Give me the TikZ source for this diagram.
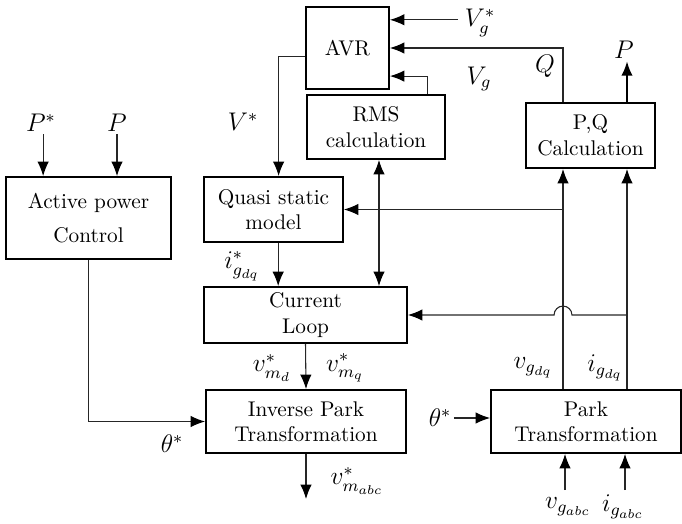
\documentclass[tikz,border=0pt]{standalone}
\usepackage{amsmath,amssymb}
\usetikzlibrary{arrows.meta,calc}

\tikzset{
  blockbox/.style={draw, line width=0.9pt, align=center, inner sep=2pt},
  conn/.style={line width=0.5pt, black!85},
  arr/.style={conn, -{Latex[length=6.8pt,width=5.4pt,color=black]}},
  darr/.style={conn, {Latex[length=6.8pt,width=5.4pt,color=black]}-{Latex[length=6.8pt,width=5.4pt,color=black]}},
  lbl/.style={inner sep=1pt, font=\large}
}

\begin{document}
\begin{tikzpicture}[x=0.47pt, y=-0.47pt]
\useasboundingbox (0,0) rectangle (682,523);

% blocks
\node[blockbox, minimum width=39pt, minimum height=38.5pt] (avr) at (347.5,48) {AVR};
\node[blockbox, minimum width=64.9pt, minimum height=30.1pt] (rms) at (376,127) {RMS\\calculation};
\node[blockbox, minimum width=60.6pt, minimum height=30.6pt] (pq) at (590.5,135.5) {P,Q\\Calculation};
\node[blockbox, minimum width=77.6pt, minimum height=38.5pt] (apc) at (88.5,218) {Active power\\[4pt]Control};
\node[blockbox, minimum width=65.3pt, minimum height=30.6pt] (quasi) at (273.5,209.5) {Quasi static\\model};
\node[blockbox, minimum width=95.4pt, minimum height=26.3pt] (loop) at (305.5,315) {Current\\Loop};
\node[blockbox, minimum width=94pt, minimum height=29.6pt] (invpark) at (306,421.5) {Inverse Park\\Transformation};
\node[blockbox, minimum width=89.3pt, minimum height=29.6pt] (park) at (586,421.5) {Park\\Transformation};

% measured signal columns
\coordinate (vcol) at (563,0);
\coordinate (icol) at (627,0);

% active power
\node[lbl] (pstar) at (41,123) {$P^*$};
\node[lbl] (pmeas) at (117,123) {$P$};
\draw[arr] ([xshift=1pt]pstar.south) -- ([xshift=1pt]pstar.south |- apc.north);
\draw[arr] (pmeas) -- (pmeas |- apc.north);
\draw[arr] (apc.south) |- (invpark.west);
\node[lbl] (thetainv) at (172,444) {$\theta^*$};

% voltage regulation
\node[lbl] (vgref) at (480,23) {$V_g^*$};
\draw[arr] ([xshift=-2pt,yshift=1.5pt]vgref.west) -- ([yshift=1.5pt]vgref.west -| avr.east);
\draw[arr] (vcol |- pq.north) |- (avr.east);
\node[lbl] (qlbl) at (545,66) {$Q$};
\draw[arr] ([xshift=24.4pt]rms.north) |- ([yshift=-13.2pt]avr.east);
\node[lbl] (vglbl) at (479,79) {$V_g$};
\draw[arr] ([yshift=-4.2pt]avr.west) -| ([xshift=2.4pt]quasi.north);
\node[lbl] (vstar) at (243,122) {$V^*$};

% P,Q calculation
\node[lbl] (pout) at (624,50) {$P$};
\draw[arr, line width=1pt, black] (icol |- pq.north) -- (icol |- pout.south);
\draw[arr] (vcol |- park.north) -- (vcol |- pq.south);
\draw[arr] (icol |- park.north) -- (icol |- pq.south);
\draw[arr] (vcol |- quasi.east) -- (quasi.east);
\draw[arr] (icol |- loop.east) -- ([xshift=4.2pt]vcol |- loop.east) arc[start angle=0, end angle=180, radius=4.2pt] -- (loop.east);

% current control chain
\draw[darr] ([xshift=1.4pt]rms.south) -- ([xshift=1.4pt]rms.south |- loop.north);
\draw[arr] ([xshift=2.2pt]quasi.south) -- ([xshift=2.2pt]quasi.south |- loop.north);
\node[lbl] (igref) at (242,266) {$i^*_{g_{dq}}$};
\draw[arr] (loop.south) -- (invpark.north);
\node[lbl] (vmd) at (272,368) {$v^*_{m_d}$};
\node[lbl] (vmq) at (345,368) {$v^*_{m_q}$};
\coordinate (vmout) at (306,499);
\draw[arr] (invpark.south) -- (vmout);
\node[lbl] (vmabc) at (357,481) {$v^*_{m_{abc}}$};

% park transformation
\node[lbl] (thetapark) at (440,418) {$\theta^*$};
\draw[arr] (thetapark) -- (thetapark -| park.west);
\node[lbl] (vgdq) at (533,368) {$v_{g_{dq}}$};
\node[lbl] (igdq) at (605,368) {$i_{g_{dq}}$};
\coordinate (vgin) at (565,490);
\coordinate (igin) at (625,490);
\draw[arr] (vgin) -- (vgin |- park.south);
\draw[arr] (igin) -- (igin |- park.south);
\node[lbl] (vgabc) at (568,507) {$v_{g_{abc}}$};
\node[lbl] (igabc) at (623,507) {$i_{g_{abc}}$};
\end{tikzpicture}
\end{document}
